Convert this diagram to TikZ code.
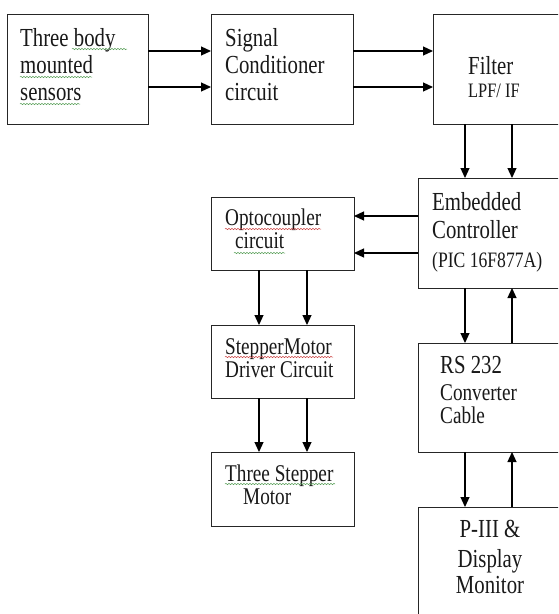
\documentclass[tikz,border=0pt]{standalone}
\usepackage{fontspec}
% narrow, tall serif lettering
\setmainfont{Liberation Serif}[FakeStretch=0.8]
\usetikzlibrary{arrows.meta,decorations.pathmorphing}

\tikzset{
  blk/.style={draw=black!85, line width=0.9pt, fill=white, rectangle,
              anchor=north west, inner sep=0pt, outer sep=0pt},
  arr/.style={draw=black, line width=1.2pt, -{Triangle[length=10pt,width=9pt]}},
  txt/.style={anchor=base west, inner sep=0pt, text=black!90,
              font=\fontsize{26}{30}\selectfont},
  txtc/.style={txt, anchor=base},
  mid/.style={font=\fontsize{24}{28}\selectfont},
  pic/.style={font=\fontsize{22}{26}\selectfont},
  small/.style={font=\fontsize{20.5}{24}\selectfont},
  squig/.style={line width=0.5pt, decorate,
                decoration={snake, segment length=3pt, amplitude=0.7pt}},
  okmark/.style={squig, draw={rgb,255:red,90;green,160;blue,90}},
  badmark/.style={squig, draw={rgb,255:red,205;green,70;blue,70}}
}

\begin{document}
\begin{tikzpicture}[x=1pt, y=-1pt]
  \useasboundingbox (0,0) rectangle (558,614);
  \fill[white] (0,0) rectangle (558,614);
  \clip (0,0) rectangle (558,614);

  % blocks: top-left corner, size
  \node[blk, minimum width=141pt, minimum height=110pt] (sens) at (7,14) {};
  \node[blk, minimum width=142pt, minimum height=110pt] (sig)  at (211,14) {};
  \node[blk, minimum width=170pt, minimum height=110pt] (filt) at (433,14) {};
  \node[blk, minimum width=185pt, minimum height=110pt] (emb)  at (418,178) {};
  \node[blk, minimum width=143pt, minimum height=73pt]  (opto) at (211,197) {};
  \node[blk, minimum width=143pt, minimum height=73pt]  (drv)  at (211,325) {};
  \node[blk, minimum width=143pt, minimum height=74pt]  (mot)  at (211,452) {};
  \node[blk, minimum width=185pt, minimum height=109pt] (rs)   at (418,343) {};
  \node[blk, minimum width=185pt, minimum height=150pt] (pc)   at (418,507) {};

  % block texts
  \node[txt] (sens1) at (20,46)  {Three body};
  \node[txt] (sens2) at (20,73)  {mounted};
  \node[txt] (sens3) at (20,100) {sensors};

  \node[txt] (sig1) at (225,46)  {Signal};
  \node[txt] (sig2) at (225,73)  {Conditioner};
  \node[txt] (sig3) at (225,100) {circuit};

  \node[txt] (filt1) at (468,74) {Filter};
  \node[txt, small] (filt2) at (468,97) {LPF/ IF};

  \node[txt] (emb1) at (432,210) {Embedded};
  \node[txt] (emb2) at (432,238) {Controller};
  \node[txt, pic] (emb3) at (432,267) {(PIC 16F877A)};

  \node[txt, mid] (opto1) at (225,225) {Optocoupler};
  \node[txt, mid] (opto2) at (235,248) {circuit};

  \node[txt, mid] (drv1) at (225,354) {StepperMotor};
  \node[txt, mid] (drv2) at (225,377) {Driver Circuit};

  \node[txt, mid] (mot1) at (225,481) {Three Stepper};
  \node[txt, mid] (mot2) at (243,504) {Motor};

  \node[txt] (rs1) at (440,373) {RS 232};
  \node[txt, mid] (rs2) at (440,400) {Converter};
  \node[txt, mid] (rs3) at (440,423) {Cable};

  \node[txtc] (pc1) at (490,537) {P-III \&};
  \node[txtc] (pc2) at (490,567) {Display};
  \node[txtc] (pc3) at (490,593) {Monitor};

  % spell-check underlines
  \draw[okmark]  (72,49)   -- (127,49);
  \draw[okmark]  (20,77)   -- (92,77);
  \draw[okmark]  (20,104)  -- (80,104);
  \draw[badmark] (225,229) -- (321,229);
  \draw[okmark]  (234,253) -- (285,253);
  \draw[badmark] (225,357) -- (333,357);
  \draw[okmark]  (225,484) -- (335,484);

  % rows and columns of the signal lines
  \coordinate (rA) at (0,51);
  \coordinate (rB) at (0,87);
  \coordinate (rC) at (0,216);
  \coordinate (rD) at (0,253);
  \coordinate (cL1) at (259,0);
  \coordinate (cL2) at (307,0);
  \coordinate (cR1) at (465,0);
  \coordinate (cR2) at (512,0);

  % sensors -> conditioner -> filter
  \draw[arr] (sens.east |- rA) -- (sig.west |- rA);
  \draw[arr] (sens.east |- rB) -- (sig.west |- rB);
  \draw[arr] (sig.east |- rA) -- (filt.west |- rA);
  \draw[arr] (sig.east |- rB) -- (filt.west |- rB);

  % filter -> controller
  \draw[arr] (filt.south -| cR1) -- (emb.north -| cR1);
  \draw[arr] (filt.south -| cR2) -- (emb.north -| cR2);

  % controller -> optocoupler -> driver -> motors
  \draw[arr] (emb.west |- rC) -- (opto.east |- rC);
  \draw[arr] (emb.west |- rD) -- (opto.east |- rD);
  \draw[arr] (opto.south -| cL1) -- (drv.north -| cL1);
  \draw[arr] (opto.south -| cL2) -- (drv.north -| cL2);
  \draw[arr] (drv.south -| cL1) -- (mot.north -| cL1);
  \draw[arr] (drv.south -| cL2) -- (mot.north -| cL2);

  % controller <-> RS 232 <-> PC
  \draw[arr] (emb.south -| cR1) -- (rs.north -| cR1);
  \draw[arr] (rs.north -| cR2) -- (emb.south -| cR2);
  \draw[arr] (rs.south -| cR1) -- (pc.north -| cR1);
  \draw[arr] (pc.north -| cR2) -- (rs.south -| cR2);
\end{tikzpicture}
\end{document}
